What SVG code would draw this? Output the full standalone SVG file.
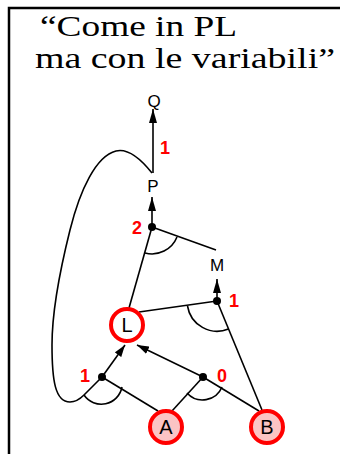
<svg xmlns="http://www.w3.org/2000/svg" width="340" height="454" viewBox="0 0 340 454">
<style>
.title{font-family:"Liberation Serif","Times New Roman",serif;font-size:28.5px;fill:#000}
.lbl{font-family:"Liberation Sans",Arial,sans-serif;font-size:17px;fill:#000;text-anchor:middle}
.big{font-size:20px}
.num{font-family:"Liberation Sans",Arial,sans-serif;font-size:18px;font-weight:bold;fill:#ff0000;text-anchor:middle}
.ln{stroke:#000;stroke-width:1.6;fill:none}
.dot{fill:#000}
.ring{stroke:#ff0000;stroke-width:4;}
</style>
<defs>
<marker id="ah" markerUnits="userSpaceOnUse" markerWidth="14" markerHeight="8" refX="14" refY="4" orient="auto">
<path d="M0,0 L14,4 L0,8 z" fill="#000"/>
</marker>
<marker id="ahs" markerUnits="userSpaceOnUse" markerWidth="12" markerHeight="8" refX="12" refY="4" orient="auto">
<path d="M0,0 L12,4 L0,8 z" fill="#000"/>
</marker>
</defs>
<rect width="340" height="454" fill="#fff"/>
<path d="M9,454 V8 H340" stroke="#000" stroke-width="2.5" fill="none"/>
<g id="title">
<text class="title" x="40" y="36" textLength="197" lengthAdjust="spacingAndGlyphs">“Come in PL</text>
<text class="title" x="35" y="68" textLength="300" lengthAdjust="spacingAndGlyphs">ma con le variabili”</text>
</g>
<g id="connectors">
<line class="ln" x1="153" y1="173" x2="153" y2="109" marker-end="url(#ah)"/>
<line class="ln" x1="152" y1="227" x2="152" y2="197" marker-end="url(#ah)"/>
<line class="ln" x1="217" y1="301" x2="217" y2="279" marker-end="url(#ah)"/>
<line class="ln" x1="102" y1="377" x2="125" y2="345" marker-end="url(#ahs)"/>
<line class="ln" x1="203" y1="377" x2="137" y2="345" marker-end="url(#ahs)"/>
<line class="ln" x1="152" y1="227" x2="216" y2="250"/>
<line class="ln" x1="152" y1="227" x2="129" y2="308"/>
<line class="ln" x1="139" y1="312" x2="217" y2="301"/>
<line class="ln" x1="217" y1="301" x2="262" y2="410"/>
<line class="ln" x1="102" y1="377" x2="158" y2="411"/>
<line class="ln" x1="203" y1="377" x2="172" y2="411"/>
<line class="ln" x1="203" y1="377" x2="259" y2="411"/>
<path class="ln" d="M152,173 C140,158 128,148 116,151 C96,156 80,190 70,230 C60,270 52,310 52,345 C52,380 55,402 70,402 C76,402 80,399 84,395 L102,377"/>
<path class="ln" d="M145,253 A27,27 0 0 0 177,237"/>
<path class="ln" d="M187.5,306 A30,30 0 0 0 228.5,329"/>
<path class="ln" d="M84,395 A21,21 0 0 0 122,387"/>
<path class="ln" d="M187,393 A21,21 0 0 0 222,387"/>
</g>
<g id="dots">
<circle class="dot" cx="152" cy="227" r="4"/>
<circle class="dot" cx="217" cy="301" r="4"/>
<circle class="dot" cx="102" cy="377" r="4"/>
<circle class="dot" cx="203" cy="377" r="4"/>
</g>
<g id="Q"><text class="lbl" x="154" y="107">Q</text></g>
<g id="P"><text class="lbl" x="153" y="192">P</text></g>
<g id="M"><text class="lbl" x="217" y="271">M</text></g>
<g id="L"><circle class="ring" cx="127" cy="325" r="16" fill="#fff"/><text class="lbl big" x="127" y="332">L</text></g>
<g id="A"><circle class="ring" cx="166" cy="427" r="16" fill="#fbc4c4"/><text class="lbl big" x="166" y="434">A</text></g>
<g id="B"><circle class="ring" cx="267" cy="427" r="16" fill="#fbc4c4"/><text class="lbl big" x="267" y="434">B</text></g>
<g id="labels">
<text class="num" x="165" y="154">1</text>
<text class="num" x="137" y="234">2</text>
<text class="num" x="234" y="307">1</text>
<text class="num" x="85" y="382">1</text>
<text class="num" x="222" y="382">0</text>
</g>
</svg>
